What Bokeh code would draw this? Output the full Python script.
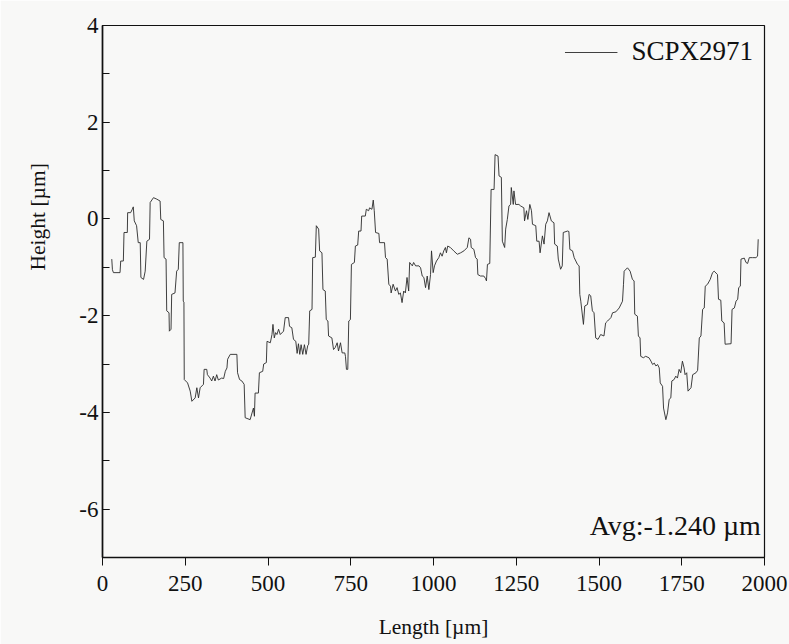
from bokeh.plotting import figure
from bokeh.models import SingleIntervalTicker, Label, Legend, LegendItem, Range1d, PrintfTickFormatter, Title
from bokeh.embed import file_html
from bokeh.resources import INLINE

series_name = "SCPX2971"
avg_text = "Avg:-1.240 \u00b5m"
x_title = "Length [\u00b5m]"
y_title = "Height [\u00b5m]"

pts = [
    (28,-0.83),(30,-1.05),(33,-1.11),(53,-1.11),(55,-0.87),(63,-0.87),(65,-0.28),(75,-0.28),(76,0.13),(85,0.13),
    (90,0.20),(93,0.25),(96,-0.04),(103,-0.14),(108,-0.49),(114,-0.49),(116,-1.21),(124,-1.25),(129,-1.08),(134,-0.46),
    (142,-0.42),(144,0.34),(154,0.44),(164,0.41),(174,0.37),(176,-0.01),(184,-0.04),(186,-0.80),(192,-0.83),(194,-1.90),
    (201,-1.94),(202,-2.32),(207,-2.28),(209,-1.56),(219,-1.53),(224,-1.08),(229,-1.04),(232,-0.49),(240,-0.49),(243,-0.49),
    (244,-1.70),(246,-1.72),(247,-3.32),(257,-3.39),(265,-3.56),(270,-3.77),(280,-3.70),(285,-3.49),(290,-3.70),(295,-3.49),
    (305,-3.42),(307,-3.11),(315,-3.11),(317,-3.22),(325,-3.29),(330,-3.35),(335,-3.25),(340,-3.35),(345,-3.22),(350,-3.33),
    (360,-3.29),(366,-3.30),(371,-3.15),(376,-3.08),(378,-2.90),(386,-2.80),(406,-2.80),
    (408,-3.18),(414,-3.32),(421,-3.35),(428,-3.42),(431,-4.11),(446,-4.15),(456,-3.91),(459,-4.08),(461,-3.60),(471,-3.60),
    (474,-3.18),(484,-3.15),(487,-3.00),(495,-2.97),(497,-2.53),(507,-2.56),(512,-2.39),(515,-2.18),(519,-2.46),(523,-2.35),
    (527,-2.39),(532,-2.28),(537,-2.39),(547,-2.32),(552,-2.04),(562,-2.04),(565,-2.22),(572,-2.25),(577,-2.49),(584,-2.53),
    (588,-2.78),(592,-2.58),(596,-2.80),(600,-2.60),(605,-2.80),(610,-2.60),(615,-2.80),(620,-2.62),(623,-2.59),(626,-1.90),
    (633,-1.87),(635,-0.80),(643,-0.79),(646,-0.14),(653,-0.21),(656,-0.66),(663,-0.70),(666,-1.46),(673,-1.49),(676,-2.08),
    (681,-2.11),(683,-2.42),(693,-2.46),(698,-2.70),(703,-2.66),(709,-2.56),(713,-2.73),(719,-2.56),(724,-2.77),(732,-2.77),
    (734,-2.84),(737,-3.11),(741,-3.11),(744,-2.11),(749,-2.08),(752,-0.94),(761,-0.90),(764,-0.56),(771,-0.54),(774,-0.25),
    (781,-0.25),(783,0.06),(794,0.06),
    (797,0.20),(804,0.17),(807,0.23),(814,0.20),(818,0.39),(821,0.17),(825,-0.28),(835,-0.30),(837,-0.49),(852,-0.49),
    (855,-0.80),(860,-0.83),(865,-1.35),(870,-1.39),(872,-1.53),(878,-1.35),(885,-1.49),(890,-1.42),(895,-1.56),(900,-1.53),
    (905,-1.73),(910,-1.49),(915,-1.53),(920,-1.21),(925,-1.49),(928,-0.90),(936,-0.97),(940,-0.90),(946,-0.97),(956,-0.97),
    (961,-1.01),(966,-1.18),(971,-1.21),(976,-1.42),(981,-1.18),(986,-1.46),(991,-1.15),(994,-0.66),(999,-1.11),(1003,-0.97),
    (1009,-0.87),(1016,-0.80),(1021,-0.70),(1026,-0.77),(1031,-0.66),(1036,-0.59),(1039,-0.70),(1043,-0.56),(1051,-0.59),(1061,-0.66),
    (1072,-0.73),(1082,-0.70),(1092,-0.66),(1102,-0.59),(1107,-0.39),(1112,-0.42),(1114,-0.59),(1122,-0.63),(1127,-0.80),(1132,-0.83),
    (1134,-1.15),(1142,-1.18),(1152,-1.18),(1157,-1.23),(1160,-1.28),(1163,-0.94),(1170,-0.92),
    (1174,0.61),(1183,0.61),(1186,1.33),(1195,1.30),(1198,0.89),(1205,0.86),(1208,-0.46),(1215,-0.59),(1218,-0.21),(1223,-0.01),
    (1228,0.27),(1233,0.30),(1235,0.65),(1241,0.30),(1243,0.58),(1248,0.30),(1258,0.30),(1263,0.27),(1273,0.23),(1275,-0.04),
    (1281,0.17),(1285,-0.01),(1291,0.30),(1296,0.17),(1299,-0.11),(1309,-0.14),(1312,-0.46),(1319,-0.46),(1322,-0.70),(1329,-0.35),
    (1334,-0.52),(1339,-0.11),(1344,-0.04),(1349,0.13),(1356,-0.04),(1364,-0.08),(1366,-0.52),(1374,-0.56),(1377,-0.83),(1384,-1.04),
    (1389,-0.97),(1392,-0.28),(1405,-0.25),(1409,-0.26),(1412,-0.63),(1420,-0.66),(1425,-0.80),(1430,-0.87),(1435,-0.94),(1440,-0.97),
    (1442,-1.56),(1445,-1.70),(1453,-2.18),(1457,-1.80),(1465,-1.77),(1470,-1.56),(1475,-1.59),(1480,-1.90),(1485,-1.94),(1490,-2.46),
    (1497,-2.49),(1505,-2.39),(1515,-2.42),(1520,-2.15),(1526,-2.11),(1536,-2.04),(1541,-1.94),(1551,-1.92),(1561,-1.84),(1571,-1.70),
    (1574,-1.35),(1576,-1.08),
    (1586,-1.01),(1594,-1.08),(1601,-1.25),(1606,-1.28),(1608,-1.97),(1616,-2.01),(1619,-2.42),(1624,-2.46),(1626,-2.84),(1634,-2.87),
    (1641,-2.84),(1651,-2.87),(1657,-2.94),(1662,-3.01),(1667,-2.98),(1672,-3.04),(1677,-3.01),(1682,-3.08),(1685,-3.39),(1692,-3.46),
    (1695,-3.91),(1702,-4.15),(1707,-4.01),(1712,-3.73),(1717,-3.70),(1720,-3.35),(1727,-3.32),(1732,-3.25),(1737,-3.29),(1742,-3.11),
    (1747,-3.18),(1752,-2.94),(1757,-3.08),(1760,-3.22),(1765,-3.18),(1769,-3.56),(1778,-3.49),(1783,-3.22),(1793,-3.18),(1798,-3.13),
    (1803,-2.46),(1808,-2.42),(1813,-1.87),(1818,-1.84),(1821,-1.39),(1828,-1.35),(1836,-1.25),(1843,-1.11),(1848,-1.08),(1858,-1.15),
    (1861,-1.66),(1868,-1.68),(1871,-2.11),(1878,-2.15),(1881,-2.59),(1899,-2.58),(1902,-1.87),(1909,-1.84),(1914,-1.70),(1919,-1.66),
    (1922,-1.42),(1927,-1.39),(1929,-0.83),(1939,-0.81),(1944,-0.90),(1949,-0.92),(1954,-0.80),(1964,-0.80),(1974,-0.80),(1979,-0.77),
    (1981,-0.42),
]
length = [p[0] for p in pts]
height = [p[1] for p in pts]

FONT = "Liberation Serif"
BG = "#f8f8f7"
INK = "#111111"

p = figure(width=789, height=644, output_backend="svg", toolbar_location=None,
           x_range=Range1d(0, 2000), y_range=Range1d(-7, 4),
           min_border_left=102, min_border_right=25, min_border_top=25, min_border_bottom=87)
p.background_fill_color = BG
p.border_fill_color = BG
p.outline_line_color = INK
p.outline_line_width = 1.2
p.xgrid.visible = False
p.ygrid.visible = False

r = p.line(length, height, line_color="#2a2a2a", line_width=0.9)

p.xaxis.ticker = SingleIntervalTicker(interval=250, num_minor_ticks=0)
p.yaxis.ticker = SingleIntervalTicker(interval=2, num_minor_ticks=2)
p.yaxis.formatter = PrintfTickFormatter(format="%d")
for ax in (p.xaxis[0], p.yaxis[0]):
    ax.axis_line_color = INK
    ax.axis_line_width = 1.6
    ax.major_tick_line_color = INK
    ax.minor_tick_line_color = INK
    ax.major_label_text_font = FONT
    ax.major_label_text_font_size = "23px"
    ax.major_label_text_color = INK
    ax.axis_label_text_font = FONT
    ax.axis_label_text_font_size = "21.5px"
    ax.axis_label_text_font_style = "normal"
    ax.axis_label_text_color = INK

p.xaxis.major_tick_in = 0
p.xaxis.major_tick_out = 8
p.xaxis.major_label_standoff = 10
p.xaxis.axis_label = x_title
p.xaxis.axis_label_standoff = 21

p.yaxis.major_tick_in = 7
p.yaxis.major_tick_out = 0
p.yaxis.minor_tick_in = 7
p.yaxis.minor_tick_out = 0
p.yaxis.major_label_standoff = 4

# y-axis title sits above centre in the original: a left-side title with an offset
ytitle = Title(text=y_title, align="left", vertical_align="top", offset=287, standoff=50,
               text_font=FONT, text_font_size="21.5px", text_font_style="normal", text_color=INK)
p.add_layout(ytitle, "left")

legend = Legend(items=[LegendItem(label=series_name, renderers=[r])],
                location="top_right", border_line_alpha=0, background_fill_alpha=0,
                glyph_width=53, label_standoff=14, margin=3, padding=8,
                label_text_font=FONT, label_text_font_size="27px", label_text_color=INK)
p.add_layout(legend)

p.add_layout(Label(x=1989, y=-6.34, text=avg_text, text_align="right", text_baseline="middle",
                   text_font=FONT, text_font_size="28px", text_color=INK))

open("out.html", "w").write(file_html(p, INLINE))
